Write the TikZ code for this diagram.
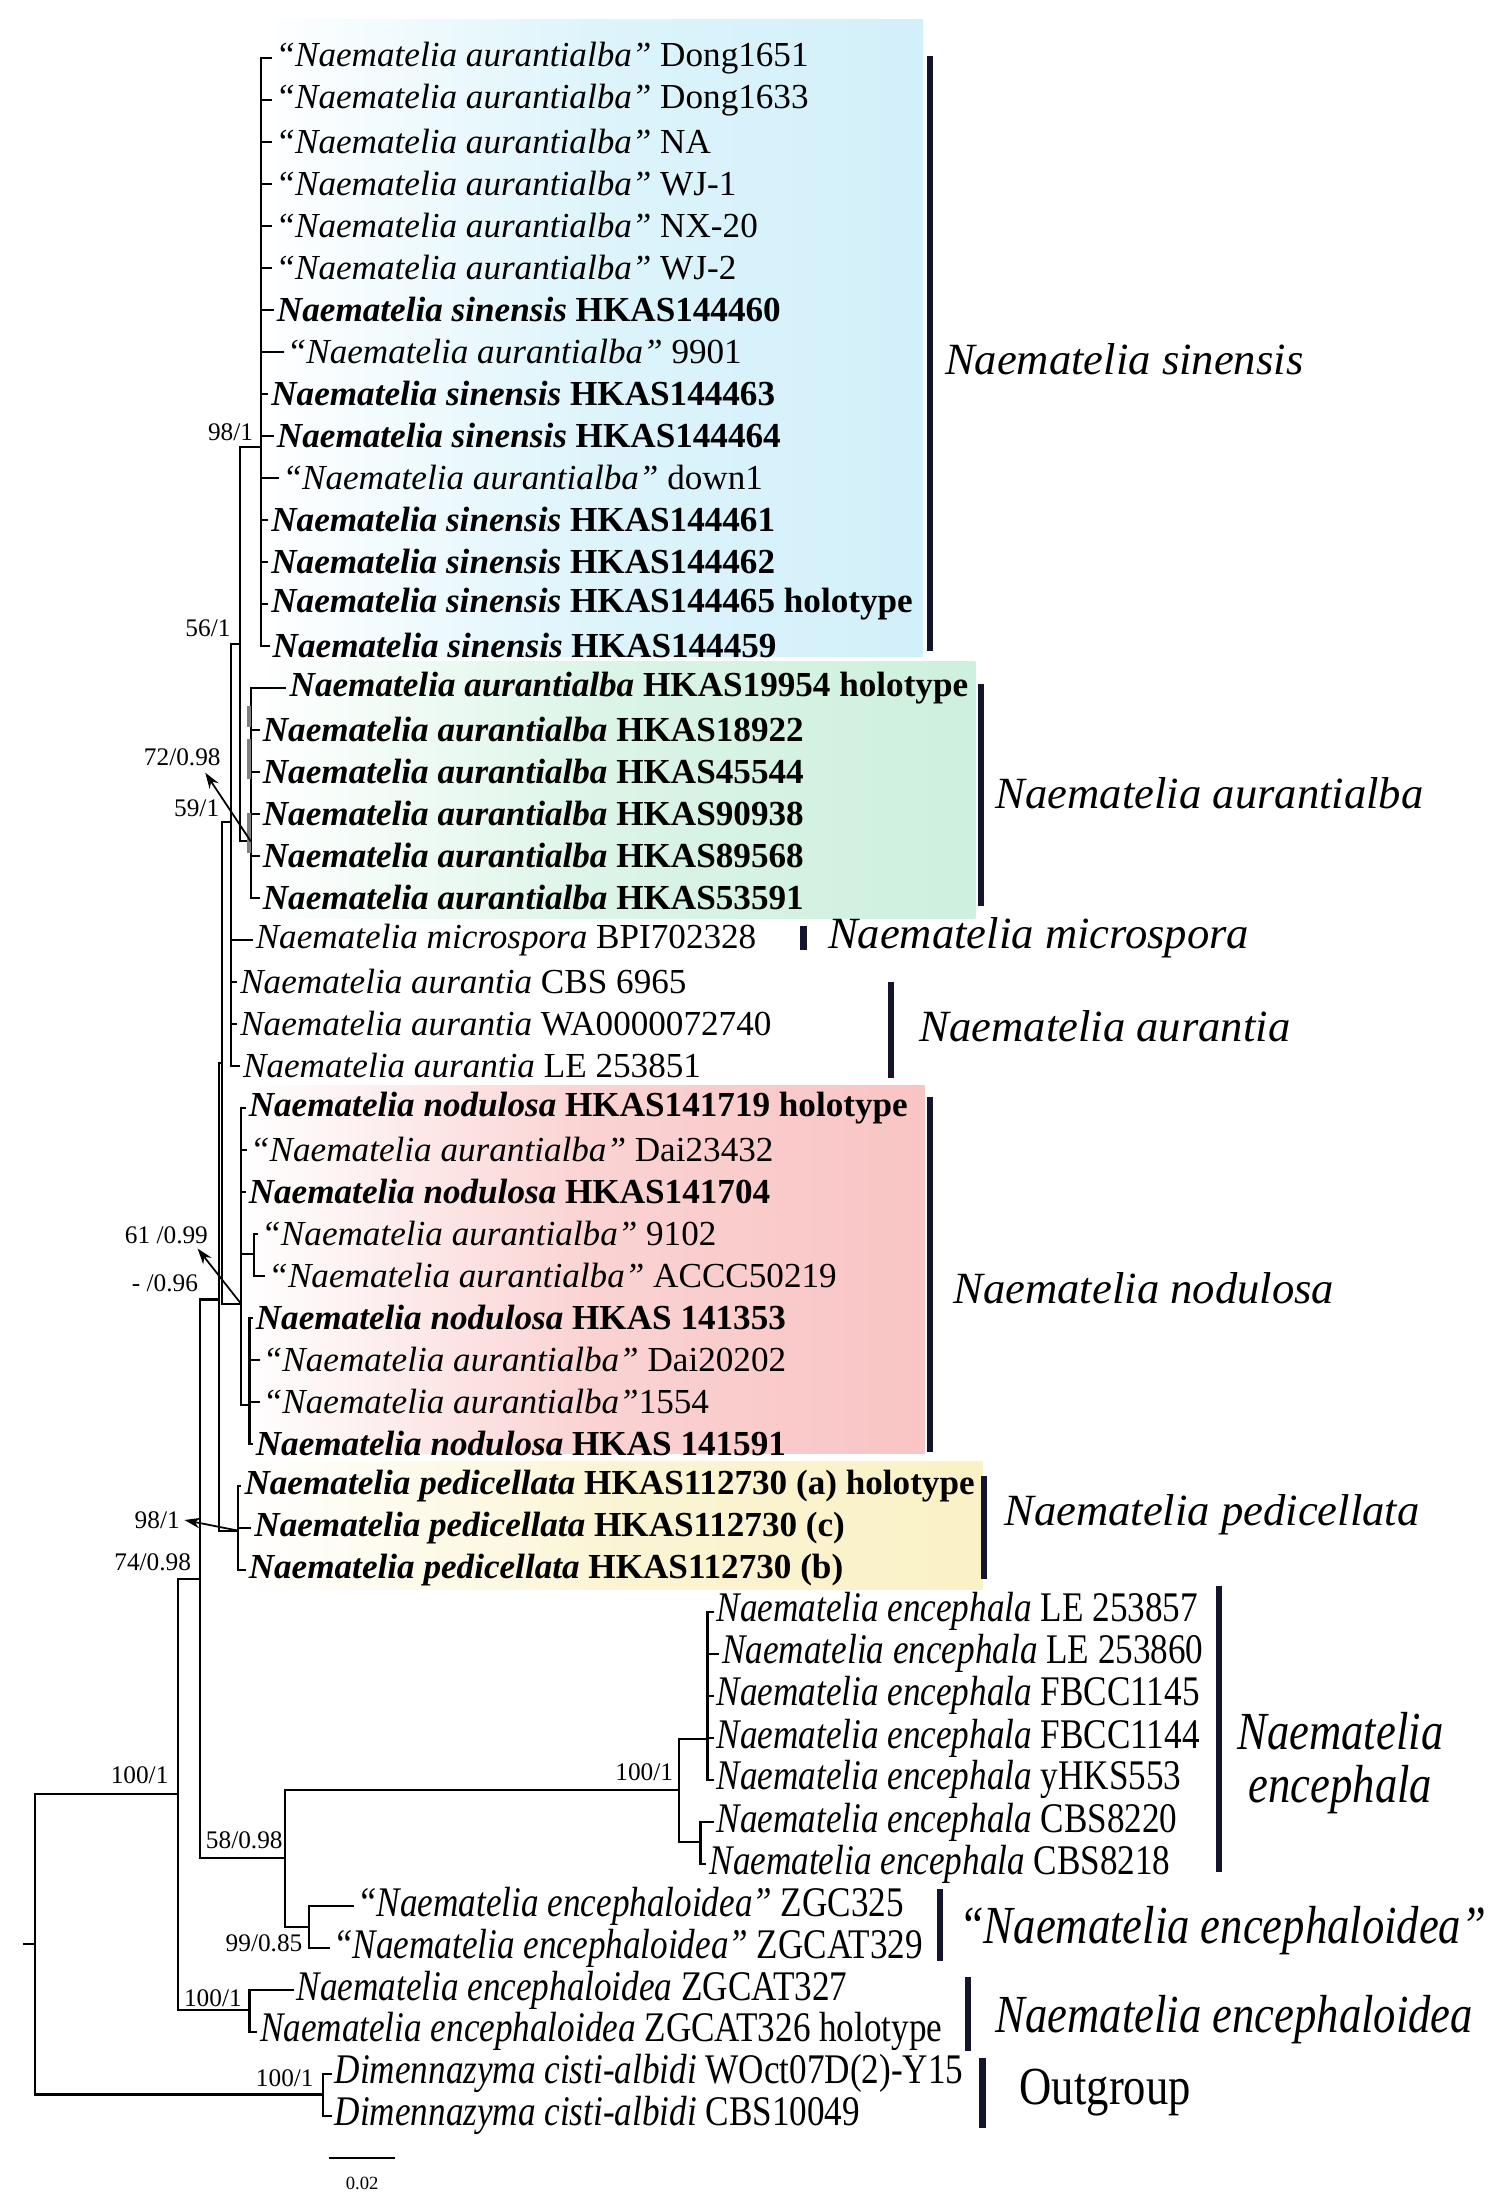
\documentclass[tikz,border=0pt]{standalone}
\usepackage{fontspec}
\setmainfont{Liberation Serif}
\usetikzlibrary{arrows.meta}

\definecolor{barnavy}{RGB}{20,20,45}
\definecolor{sinblue}{RGB}{210,240,250}
\definecolor{albgreen}{RGB}{206,240,222}
\definecolor{nodpink}{RGB}{249,196,196}
\definecolor{pedyellow}{RGB}{250,241,198}

\def\rowsep{29.8}
\def\rowtop{41}
\newcommand{\qa}{\textit{“Naematelia aurantialba”}}
\newcommand{\nbf}[1]{\textbf{\textit{Naematelia #1}}}
\newcommand{\nit}[1]{\textit{Naematelia #1}}
\newcommand{\tallbox}[1]{\scalebox{1}[1.2]{#1}}
% tip branches from one node to its leaves
\newcommand{\tipsof}[2]{
  \foreach \t in {#2} {
    \draw[branch] (#1 |- t\t.west) -- (t\t.west);
  }
}

\tikzset{
  branch/.style={line width=0.6pt, line cap=rect},
  tiplab/.style={anchor=west, inner xsep=1pt, inner ysep=0pt, font=\fontsize{10}{12}\selectfont},
  support/.style={anchor=south east, inner sep=0pt, font=\fontsize{7.2}{8.5}\selectfont},
  cladebar/.style={line width=1.8pt, barnavy},
  cladelab/.style={anchor=west, inner sep=0pt, font=\fontsize{12.7}{15.2}\selectfont\itshape},
  pointer/.style={-{Stealth[length=4.5pt, width=3pt]}, line width=0.5pt},
}

\begin{document}
\begin{tikzpicture}[x=0.14094mm, y=-0.14094mm]
\useasboundingbox (0,0) rectangle (1065,1568);

% clade backgrounds
\shade[left color=white, right color=sinblue, middle color=sinblue!75] (185,14) rectangle (655,466);
\shade[left color=white, right color=albgreen, middle color=albgreen!75] (180,469) rectangle (692,652);
\shade[left color=white, right color=nodpink, middle color=nodpink!75] (174,770) rectangle (656,1031);
\shade[left color=white, right color=pedyellow, middle color=pedyellow!75] (170,1037) rectangle (697,1128);

% leaves
\foreach \r/\x/\txt in {
  1/195/{\qa{} Dong1651}, 2/195/{\qa{} Dong1633}, 3/195/{\qa{} NA},
  4/195/{\qa{} WJ-1}, 5/195/{\qa{} NX-20}, 6/195/{\qa{} WJ-2},
  7/196/{\nbf{sinensis} \textbf{HKAS144460}}, 8/203/{\qa{} 9901},
  9/192/{\nbf{sinensis} \textbf{HKAS144463}}, 10/196/{\nbf{sinensis} \textbf{HKAS144464}},
  11/200/{\qa{} down1}, 12/192/{\nbf{sinensis} \textbf{HKAS144461}},
  13/192/{\nbf{sinensis} \textbf{HKAS144462}}, 14/192/{\nbf{sinensis} \textbf{HKAS144465 holotype}},
  15/193/{\nbf{sinensis} \textbf{HKAS144459}},
  16/205/{\nbf{aurantialba} \textbf{HKAS19954 holotype}}, 17/186/{\nbf{aurantialba} \textbf{HKAS18922}},
  18/186/{\nbf{aurantialba} \textbf{HKAS45544}}, 19/186/{\nbf{aurantialba} \textbf{HKAS90938}},
  20/186/{\nbf{aurantialba} \textbf{HKAS89568}}, 21/186/{\nbf{aurantialba} \textbf{HKAS53591}},
  22/181/{\nit{microspora} BPI702328}, 23/170/{\nit{aurantia} CBS 6965},
  24/170/{\nit{aurantia} WA0000072740}, 25/172/{\nit{aurantia} LE 253851},
  26/176/{\nbf{nodulosa} \textbf{HKAS141719 holotype}}, 27/177/{\qa{} Dai23432},
  28/176/{\nbf{nodulosa} \textbf{HKAS141704}}, 29/185/{\qa{} 9102},
  30/190/{\qa{} ACCC50219}, 31/181/{\nbf{nodulosa} \textbf{HKAS 141353}},
  32/186/{\qa{} Dai20202}, 33/186/{\qa{}1554}, 34/181/{\nbf{nodulosa} \textbf{HKAS 141591}},
  35/173/{\nbf{pedicellata} \textbf{HKAS112730 (a) holotype}},
  36/180/{\nbf{pedicellata} \textbf{HKAS112730 (c)}},
  37/176/{\nbf{pedicellata} \textbf{HKAS112730 (b)}},
  38/508/{\tallbox{\nit{encephala} LE 253857}}, 39/512/{\tallbox{\nit{encephala} LE 253860}},
  40/508/{\tallbox{\nit{encephala} FBCC1145}}, 41/508/{\tallbox{\nit{encephala} FBCC1144}},
  42/508/{\tallbox{\nit{encephala} yHKS553}}, 43/508/{\tallbox{\nit{encephala} CBS8220}},
  44/503/{\tallbox{\nit{encephala} CBS8218}},
  45/253/{\tallbox{\textit{“Naematelia encephaloidea”} ZGC325}},
  46/236/{\tallbox{\textit{“Naematelia encephaloidea”} ZGCAT329}},
  47/210/{\tallbox{\nit{encephaloidea} ZGCAT327}},
  48/184/{\tallbox{\nit{encephaloidea} ZGCAT326 holotype}},
  49/237/{\tallbox{\textit{Dimennazyma cisti-albidi} WOct07D(2)-Y15}},
  50/237/{\tallbox{\textit{Dimennazyma cisti-albidi} CBS10049}}}
  \node[tiplab] (t\r) at ({\x-2.5}, {\rowtop+(\r-1)*\rowsep}) {\txt};

% inner nodes
\coordinate (sin) at (185,317);
\coordinate (alb) at (178,597);
\coordinate (sone) at (170,457);
\coordinate (pp) at (164,583);
\coordinate (qq) at (157.5,754);
\coordinate (dd) at (155.5,922);
\coordinate (nod) at (171,925);
\coordinate (nodone) at (180,890);
\coordinate (nodtwo) at (177,997);
\coordinate (ped) at (169,1086);
\coordinate (bb) at (142,1120);
\coordinate (cc) at (202,1318);
\coordinate (enc) at (482,1270);
\coordinate (encone) at (502,1234);
\coordinate (enctwo) at (497,1307);
\coordinate (qe) at (219,1367);
\coordinate (en) at (177,1426);
\coordinate (aa) at (126,1273);
\coordinate (og) at (229,1486);
\coordinate (root) at (24.6,1379.5);
\coordinate (rootstub) at (17,1379.5);

% vertical bars of the nodes
\foreach \nd/\top/\bot in {sin/t1/t15, alb/t16/t21, sone/sin/alb, pp/sone/t25,
    qq/pp/nod, dd/qq/ped, nod/t26/nodtwo, nodone/t29/t30, nodtwo/t31/t34,
    ped/t35/t37, bb/dd/cc, cc/enc/qe, enc/encone/enctwo, encone/t38/t42,
    enctwo/t43/t44, qe/t45/t46, en/t47/t48, aa/bb/en, og/t49/t50, root/aa/og}
  \draw[branch] (\nd |- \top) -- (\nd |- \bot);

% branches to the children
\foreach \kid/\dad in {sin/sone, alb/sone, sone/pp, pp/qq, nod/qq, qq/dd, ped/dd,
    dd/bb, cc/bb, bb/aa, en/aa, aa/root, og/root, enc/cc, qe/cc,
    encone/enc, enctwo/enc, nodone/nod, nodtwo/nod}
  \draw[branch] (\dad |- \kid) -- (\kid);
\draw[branch] (rootstub) -- (root);

\tipsof{sin}{1,...,15}
\tipsof{alb}{16,...,21}
\tipsof{pp}{22,...,25}
\tipsof{nod}{26,27,28}
\tipsof{nodone}{29,30}
\tipsof{nodtwo}{31,...,34}
\tipsof{ped}{35,36,37}
\tipsof{encone}{38,...,42}
\tipsof{enctwo}{43,44}
\tipsof{qe}{45,46}
\tipsof{en}{47,48}
\tipsof{og}{49,50}

% short internal branches in N. aurantialba
\foreach \ya/\yb in {501/516, 524/553, 577/605}
  \draw[line width=1.1pt, gray] (176.8,\ya) -- (176.8,\yb);

% support values
\node[support] (sSin) at (180,313) {98/1};
\node[support] (sSone) at (164,452) {56/1};
\node[support] (sAlb) at (157,544) {72/0.98};
\node[support] (sPp) at (156,580) {59/1};
\node[support] (sNod) at (148,883) {61 /0.99};
\node[support] (sDd) at (141,917) {- /0.96};
\node[support] (sPed) at (128,1085) {98/1};
\node[support] (sBb) at (136,1115) {74/0.98};
\node[support] (sAa) at (120,1266) {100/1};
\node[support] (sCc) at (201,1312) {58/0.98};
\node[support, anchor=east] (sQe) at (215,1379) {99/0.85};
\node[support] (sEn) at (172,1424) {100/1};
\node[support] (sEnc) at (478,1264) {100/1};
\node[support] (sOg) at (223,1481) {100/1};

\draw[pointer] (alb) -- ([xshift=-1.6mm, yshift=-0.6mm]sAlb.south east);
\draw[pointer] (nod) -- ([xshift=-1.1mm, yshift=-0.4mm]sNod.south east);
\draw[pointer] (ped) -- ([xshift=0.4mm]sPed.east);

% clade bars and names
\draw[cladebar] (660,40) -- (660,462);
\draw[cladebar] (696,485) -- (696,643);
\draw[cladebar] (570,657) -- (570,674);
\draw[cladebar] (632,697) -- (632,765);
\draw[cladebar] (660,778) -- (660,1030);
\draw[cladebar] (698,1047) -- (698,1120);
\draw[cladebar] (865,1125) -- (865,1328);
\draw[cladebar] (667,1340) -- (667,1391);
\draw[cladebar] (687,1403) -- (687,1455);
\draw[cladebar] (697,1460) -- (697,1510);

\node[cladelab] (cSin) at (670,255) {Naematelia sinensis};
\node[cladelab] (cAlb) at (706,563) {Naematelia aurantialba};
\node[cladelab] (cMic) at (587,665) {Naematelia microspora};
\node[cladelab] (cAur) at (652,728) {Naematelia aurantia};
\node[cladelab] (cNod) at (676,914) {Naematelia nodulosa};
\node[cladelab] (cPed) at (712,1075) {Naematelia pedicellata};
\node[cladelab, anchor=center, align=center] (cEnc) at (951,1251) {\tallbox{Naematelia}\\\tallbox{encephala}};
\node[cladelab] (cQe) at (680,1370) {\tallbox{“Naematelia encephaloidea”}};
\node[cladelab] (cEn) at (706,1433) {\tallbox{Naematelia encephaloidea}};
\node[cladelab, font=\fontsize{12.7}{15}\selectfont\upshape] (cOut) at (723,1485) {\tallbox{Outgroup}};

% scale bar
\coordinate (sbl) at (234,1531);
\coordinate (sbr) at (279.5,1531);
\draw[branch] (sbl) -- (sbr);
\node[inner sep=0pt, font=\fontsize{5.3}{6}\selectfont] (sbtext) at (257,1549) {0.02};
\end{tikzpicture}
\end{document}
